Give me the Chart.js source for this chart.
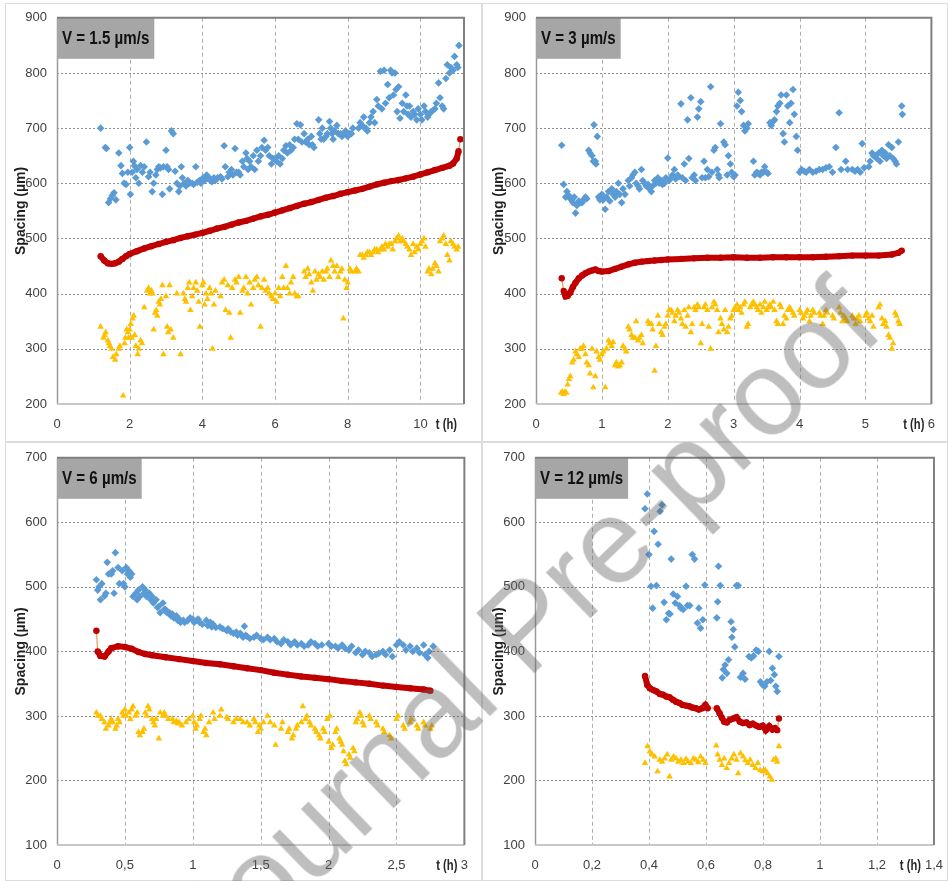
<!DOCTYPE html>
<html>
<head>
<meta charset="utf-8">
<script src="https://cdn.jsdelivr.net/npm/chart.js@4.4.0/dist/chart.umd.min.js"></script>
<style>
    html, body { margin: 0; padding: 0; background: #fff; width: 948px; height: 881px; overflow: hidden; }
    .frame { position: absolute; border: 1.5px solid #dcdcdc; box-sizing: border-box; }
    .panel { position: absolute; }
    .wm {
        position: absolute; left: 524px; top: 624px;
        transform: translate(-50%, -50%) rotate(-44deg);
        font: 120px "Liberation Sans", Arial, sans-serif;
        color: rgba(100, 100, 100, 0.42);
        white-space: nowrap; pointer-events: none;
    }
</style>
</head>
<body>
<div class="frame" style="left:5px;top:3px;width:478px;height:440px"></div>
<div class="frame" style="left:481px;top:3px;width:467px;height:440px"></div>
<div class="frame" style="left:5px;top:441px;width:478px;height:440px"></div>
<div class="frame" style="left:481px;top:441px;width:467px;height:440px"></div>

<div class="panel" style="left:0;top:0"><canvas id="c1" width="481" height="440"></canvas></div>
<div class="panel" style="left:481px;top:0"><canvas id="c2" width="467" height="440"></canvas></div>
<div class="panel" style="left:0;top:440px"><canvas id="c3" width="481" height="441"></canvas></div>
<div class="panel" style="left:481px;top:440px"><canvas id="c4" width="475" height="441"></canvas></div>

<div class="wm">Journal Pre-proof</div>

<script>
// [t (h), spacing (µm)]  -- max (blue), mean (red), min (yellow)

// V = 1.5 µm/s
const v15Max = [[1.2,700],[1.33,665],[1.36,663],[1.42,565],[1.47,572],[1.52,578],[1.57,583],[1.62,570],[1.7,655],[1.76,632],[1.8,618],[1.85,600],[1.9,598],[1.95,620],[2.0,665],[2.02,580],[2.07,620],[2.1,640],[2.13,632],[2.17,610],[2.2,625],[2.25,600],[2.3,632],[2.35,620],[2.4,630],[2.46,675],[2.52,612],[2.56,620],[2.62,585],[2.66,600],[2.72,615],[2.76,625],[2.8,630],[2.85,628],[2.9,580],[2.93,630],[3.0,660],[3.03,630],[3.07,625],[3.1,590],[3.15,695],[3.2,690],[3.25,622],[3.3,600],[3.35,585],[3.38,595],[3.42,630],[3.45,610],[3.5,600],[3.55,595],[3.6,605],[3.65,600],[3.72,600],[3.76,598],[3.82,630],[3.86,602],[3.92,605],[3.96,600],[4.02,610],[4.06,605],[4.12,615],[4.16,608],[4.22,608],[4.26,603],[4.32,610],[4.36,605],[4.42,610],[4.5,612],[4.54,608],[4.6,668],[4.63,630],[4.7,612],[4.74,620],[4.8,625],[4.84,615],[4.9,663],[4.94,620],[5.0,620],[5.04,615],[5.1,640],[5.14,630],[5.2,655],[5.23,645],[5.26,625],[5.3,640],[5.34,630],[5.4,650],[5.44,625],[5.5,660],[5.54,640],[5.6,650],[5.64,665],[5.7,678],[5.74,660],[5.8,665],[5.84,650],[5.9,635],[5.94,645],[6.0,645],[6.04,640],[6.1,650],[6.14,635],[6.2,645],[6.24,660],[6.3,668],[6.34,655],[6.4,670],[6.44,660],[6.5,665],[6.54,680],[6.6,708],[6.64,680],[6.7,706],[6.74,675],[6.8,690],[6.84,675],[6.9,680],[6.94,670],[7.0,685],[7.03,670],[7.07,665],[7.2,715],[7.23,690],[7.27,680],[7.3,700],[7.34,680],[7.4,685],[7.44,690],[7.5,712],[7.53,700],[7.57,690],[7.6,680],[7.64,695],[7.7,705],[7.74,690],[7.8,690],[7.84,685],[7.9,690],[7.94,695],[8.0,685],[8.04,690],[8.1,690],[8.14,700],[8.3,700],[8.34,710],[8.4,705],[8.44,720],[8.47,700],[8.5,700],[8.54,695],[8.6,710],[8.64,720],[8.7,730],[8.74,710],[8.8,752],[8.84,740],[8.9,803],[8.94,735],[9.0,805],[9.04,745],[9.1,779],[9.14,755],[9.18,805],[9.22,800],[9.26,760],[9.3,800],[9.33,770],[9.36,730],[9.4,775],[9.44,718],[9.5,745],[9.54,730],[9.6,760],[9.63,740],[9.66,725],[9.7,740],[9.74,720],[9.8,730],[9.84,725],[9.9,715],[9.94,735],[10.0,725],[10.04,715],[10.1,740],[10.14,730],[10.2,720],[10.24,725],[10.3,730],[10.34,732],[10.4,735],[10.44,745],[10.5,782],[10.54,755],[10.6,740],[10.64,735],[10.7,790],[10.74,815],[10.8,800],[10.84,810],[10.9,805],[10.94,830],[11.0,815],[11.03,810],[11.06,850]];
const v15Mean = [[1.2,468],[1.3,460],[1.4,455],[1.5,454],[1.6,455],[1.7,458],[1.8,463],[1.9,468],[2.0,472],[2.2,477],[2.4,482],[2.6,486],[2.8,490],[3.0,494],[3.2,497],[3.4,501],[3.6,504],[3.8,507],[4.0,510],[4.2,514],[4.4,518],[4.6,521],[4.8,525],[5.0,529],[5.2,532],[5.4,536],[5.6,540],[5.8,543],[6.0,547],[6.2,551],[6.4,555],[6.6,559],[6.8,563],[7.0,566],[7.2,570],[7.4,574],[7.6,577],[7.8,581],[8.0,584],[8.2,587],[8.4,590],[8.6,594],[8.8,598],[9.0,601],[9.2,604],[9.4,606],[9.6,609],[9.8,612],[10.0,616],[10.2,620],[10.4,624],[10.6,628],[10.8,632],[10.9,636],[11.0,645],[11.05,658],[11.1,680]];
const v15Min = [[1.2,340],[1.28,320],[1.31,325],[1.34,330],[1.4,315],[1.43,310],[1.46,305],[1.5,300],[1.54,285],[1.6,280],[1.63,290],[1.7,300],[1.73,305],[1.82,215],[1.86,310],[1.88,320],[1.92,335],[1.95,330],[1.97,320],[2.0,335],[2.03,345],[2.06,320],[2.08,355],[2.11,360],[2.14,325],[2.17,305],[2.22,290],[2.25,300],[2.3,315],[2.34,310],[2.4,375],[2.48,405],[2.52,410],[2.56,400],[2.6,405],[2.63,400],[2.66,335],[2.7,365],[2.73,370],[2.76,360],[2.8,385],[2.83,380],[2.86,390],[2.9,415],[2.93,290],[3.0,395],[3.03,340],[3.06,330],[3.1,415],[3.13,335],[3.2,320],[3.3,400],[3.4,290],[3.48,400],[3.52,390],[3.55,385],[3.6,410],[3.64,420],[3.67,370],[3.72,395],[3.76,410],[3.82,420],[3.86,405],[3.9,385],[3.93,340],[4.0,415],[4.03,420],[4.06,380],[4.1,400],[4.14,390],[4.2,410],[4.24,400],[4.28,300],[4.32,380],[4.36,405],[4.5,395],[4.54,420],[4.6,425],[4.64,370],[4.7,415],[4.74,365],[4.78,320],[4.82,410],[4.9,425],[4.94,420],[5.0,430],[5.04,365],[5.1,405],[5.14,410],[5.2,430],[5.24,400],[5.3,420],[5.34,380],[5.4,410],[5.44,425],[5.5,430],[5.54,415],[5.6,340],[5.64,410],[5.7,425],[5.74,405],[5.8,410],[5.84,400],[5.9,395],[5.94,390],[6.0,400],[6.04,385],[6.1,410],[6.14,395],[6.2,430],[6.24,410],[6.3,450],[6.34,410],[6.4,400],[6.44,420],[6.5,430],[6.54,400],[6.6,395],[6.64,395],[6.8,440],[6.84,430],[6.9,445],[6.94,435],[7.0,420],[7.04,405],[7.1,440],[7.14,425],[7.2,435],[7.24,430],[7.3,440],[7.34,425],[7.4,440],[7.44,445],[7.5,430],[7.54,460],[7.6,450],[7.64,440],[7.7,450],[7.74,430],[7.8,440],[7.84,445],[7.88,355],[7.92,425],[7.97,410],[8.0,420],[8.06,445],[8.1,440],[8.2,440],[8.24,445],[8.3,440],[8.34,470],[8.4,470],[8.44,465],[8.5,470],[8.54,475],[8.6,475],[8.64,470],[8.7,475],[8.74,480],[8.8,480],[8.84,475],[8.9,480],[8.94,485],[9.0,480],[9.04,490],[9.1,485],[9.14,490],[9.2,490],[9.24,480],[9.3,495],[9.34,500],[9.4,505],[9.44,495],[9.5,500],[9.54,495],[9.6,490],[9.64,485],[9.7,480],[9.74,470],[9.8,490],[9.84,475],[9.9,485],[9.94,480],[10.0,490],[10.04,495],[10.1,500],[10.14,485],[10.2,440],[10.24,445],[10.3,435],[10.34,445],[10.4,455],[10.44,450],[10.5,440],[10.54,495],[10.6,500],[10.64,505],[10.7,490],[10.74,470],[10.8,460],[10.84,495],[10.9,490],[10.94,485],[11.0,480],[11.04,485]];

// V = 3 µm/s
const v3Max = [[0.39,669],[0.42,598],[0.45,575],[0.47,585],[0.5,578],[0.52,572],[0.54,570],[0.56,565],[0.58,575],[0.6,546],[0.62,560],[0.65,568],[0.67,565],[0.7,565],[0.72,570],[0.75,575],[0.77,572],[0.8,660],[0.82,655],[0.85,650],[0.87,640],[0.88,706],[0.9,640],[0.91,635],[0.93,685],[0.95,575],[0.97,570],[1.0,580],[1.02,570],[1.05,553],[1.07,575],[1.1,585],[1.12,568],[1.15,590],[1.17,580],[1.2,575],[1.22,585],[1.25,600],[1.27,580],[1.3,565],[1.32,590],[1.35,580],[1.4,605],[1.42,595],[1.45,610],[1.47,615],[1.5,620],[1.52,600],[1.55,595],[1.57,590],[1.6,625],[1.62,605],[1.65,600],[1.67,595],[1.7,598],[1.72,590],[1.75,585],[1.77,595],[1.8,605],[1.82,600],[1.85,610],[1.87,600],[1.9,605],[1.92,598],[1.95,600],[1.97,610],[2.0,646],[2.02,605],[2.05,610],[2.07,615],[2.1,625],[2.12,608],[2.15,615],[2.17,612],[2.2,744],[2.22,610],[2.25,635],[2.27,605],[2.3,715],[2.32,645],[2.35,755],[2.37,610],[2.4,615],[2.42,605],[2.45,720],[2.47,735],[2.5,748],[2.52,610],[2.55,640],[2.57,610],[2.6,625],[2.62,612],[2.65,775],[2.67,620],[2.7,660],[2.72,665],[2.75,625],[2.77,615],[2.78,610],[2.8,708],[2.85,675],[2.87,670],[2.9,615],[2.92,650],[2.95,635],[2.97,620],[3.0,612],[3.02,615],[3.05,740],[3.07,765],[3.1,750],[3.12,730],[3.15,705],[3.17,695],[3.2,700],[3.22,708],[3.3,640],[3.32,615],[3.35,620],[3.37,618],[3.4,615],[3.42,620],[3.45,620],[3.47,630],[3.5,620],[3.52,618],[3.55,710],[3.57,705],[3.6,712],[3.62,715],[3.65,730],[3.67,740],[3.7,745],[3.72,760],[3.75,690],[3.77,675],[3.8,760],[3.82,740],[3.85,710],[3.87,745],[3.9,770],[3.92,725],[3.95,685],[3.97,660],[4.0,620],[4.03,625],[4.07,622],[4.1,620],[4.15,625],[4.2,620],[4.25,622],[4.3,625],[4.35,625],[4.4,628],[4.45,630],[4.5,620],[4.55,665],[4.6,728],[4.63,625],[4.7,640],[4.73,625],[4.8,625],[4.84,622],[4.88,625],[4.92,620],[4.95,672],[4.98,628],[5.05,630],[5.07,640],[5.1,655],[5.12,650],[5.15,650],[5.17,645],[5.2,655],[5.22,640],[5.25,660],[5.27,650],[5.3,655],[5.32,645],[5.35,670],[5.37,650],[5.4,665],[5.42,645],[5.45,640],[5.47,635],[5.5,675],[5.55,740],[5.56,725]];
const v3Mean = [[0.39,428],[0.42,405],[0.45,395],[0.48,396],[0.52,402],[0.56,412],[0.6,420],[0.65,428],[0.7,433],[0.75,437],[0.8,440],[0.85,442],[0.9,444],[0.95,441],[1.0,440],[1.1,441],[1.2,445],[1.3,449],[1.4,453],[1.5,456],[1.6,458],[1.7,459],[1.8,460],[1.9,461],[2.0,462],[2.2,463],[2.4,464],[2.6,465],[2.8,465],[3.0,466],[3.2,465],[3.4,465],[3.6,466],[3.8,466],[4.0,466],[4.2,466],[4.4,467],[4.6,468],[4.8,469],[5.0,469],[5.2,469],[5.4,471],[5.5,474],[5.55,478]];
const v3Min = [[0.38,220],[0.4,222],[0.42,218],[0.44,222],[0.46,220],[0.48,235],[0.5,245],[0.52,250],[0.55,275],[0.57,280],[0.6,295],[0.62,290],[0.65,285],[0.67,300],[0.7,300],[0.72,305],[0.75,290],[0.77,275],[0.8,270],[0.82,255],[0.85,300],[0.87,230],[0.9,250],[0.92,295],[0.95,285],[0.97,280],[1.0,290],[1.02,295],[1.05,230],[1.07,300],[1.1,315],[1.12,310],[1.15,305],[1.17,312],[1.2,270],[1.22,275],[1.25,268],[1.27,270],[1.3,275],[1.32,305],[1.35,300],[1.37,295],[1.4,340],[1.42,335],[1.45,325],[1.47,320],[1.5,320],[1.52,350],[1.55,315],[1.57,320],[1.6,325],[1.62,310],[1.7,350],[1.72,345],[1.75,345],[1.77,335],[1.8,260],[1.82,305],[1.85,360],[1.87,345],[1.9,330],[1.92,325],[1.95,340],[1.97,345],[2.0,360],[2.02,370],[2.05,370],[2.07,365],[2.1,350],[2.12,360],[2.15,370],[2.17,365],[2.2,355],[2.22,345],[2.25,370],[2.27,340],[2.3,360],[2.32,375],[2.35,330],[2.37,345],[2.4,375],[2.42,370],[2.45,380],[2.47,375],[2.5,310],[2.52,345],[2.55,375],[2.57,380],[2.6,370],[2.62,340],[2.65,300],[2.67,375],[2.7,385],[2.72,380],[2.75,370],[2.77,330],[2.8,355],[2.82,345],[2.85,335],[2.87,370],[2.9,330],[2.92,340],[2.95,355],[2.97,360],[3.0,370],[3.02,375],[3.05,380],[3.07,370],[3.1,375],[3.12,365],[3.15,380],[3.17,385],[3.2,340],[3.22,345],[3.25,375],[3.27,380],[3.3,385],[3.32,380],[3.35,375],[3.37,370],[3.4,380],[3.42,365],[3.45,375],[3.47,385],[3.5,370],[3.52,375],[3.55,380],[3.57,375],[3.6,385],[3.62,370],[3.65,350],[3.67,345],[3.7,380],[3.72,375],[3.75,345],[3.77,360],[3.8,355],[3.82,370],[3.85,375],[3.87,370],[3.9,365],[3.92,360],[4.0,370],[4.02,365],[4.05,355],[4.07,360],[4.1,365],[4.12,370],[4.15,350],[4.17,360],[4.2,370],[4.22,365],[4.3,365],[4.32,360],[4.35,345],[4.37,360],[4.4,370],[4.42,365],[4.5,360],[4.52,355],[4.6,375],[4.62,365],[4.65,350],[4.67,360],[4.7,355],[4.72,350],[4.8,360],[4.82,355],[4.85,345],[4.87,355],[4.9,360],[4.92,350],[5.0,360],[5.02,365],[5.05,355],[5.07,350],[5.1,360],[5.12,340],[5.2,375],[5.22,380],[5.25,355],[5.27,345],[5.3,350],[5.32,340],[5.35,325],[5.37,320],[5.4,300],[5.42,310],[5.45,365],[5.47,360],[5.5,350],[5.52,345]];

// V = 6 µm/s
const v6Max = [[0.29,511],[0.3,495],[0.31,500],[0.32,480],[0.33,505],[0.35,486],[0.36,490],[0.37,538],[0.38,520],[0.4,520],[0.41,525],[0.42,490],[0.43,553],[0.45,530],[0.46,505],[0.48,525],[0.49,505],[0.5,500],[0.51,530],[0.52,520],[0.53,525],[0.54,515],[0.55,520],[0.56,485],[0.58,490],[0.59,480],[0.6,495],[0.61,485],[0.63,500],[0.64,490],[0.65,495],[0.66,485],[0.68,490],[0.69,480],[0.7,485],[0.71,475],[0.73,480],[0.74,468],[0.75,470],[0.76,460],[0.78,475],[0.79,465],[0.8,465],[0.81,460],[0.83,460],[0.84,455],[0.85,458],[0.86,452],[0.88,455],[0.89,448],[0.9,450],[0.91,445],[0.93,448],[0.94,445],[0.96,447],[0.98,452],[1.0,450],[1.01,445],[1.03,448],[1.04,450],[1.05,445],[1.07,442],[1.1,448],[1.11,440],[1.13,445],[1.14,438],[1.15,442],[1.17,437],[1.2,438],[1.22,435],[1.25,432],[1.26,435],[1.28,430],[1.3,428],[1.32,430],[1.33,425],[1.35,428],[1.37,422],[1.38,439],[1.39,425],[1.4,423],[1.42,420],[1.45,422],[1.47,425],[1.5,420],[1.52,418],[1.55,422],[1.57,418],[1.6,420],[1.62,415],[1.65,412],[1.67,418],[1.7,415],[1.72,410],[1.75,415],[1.77,410],[1.8,412],[1.82,408],[1.85,410],[1.87,415],[1.9,412],[1.92,408],[1.95,410],[2.0,412],[2.02,408],[2.05,408],[2.07,405],[2.1,410],[2.12,405],[2.15,402],[2.17,408],[2.2,398],[2.22,402],[2.25,395],[2.27,400],[2.3,398],[2.32,392],[2.35,395],[2.37,397],[2.4,400],[2.42,395],[2.45,402],[2.47,392],[2.5,410],[2.52,415],[2.55,410],[2.57,402],[2.6,408],[2.62,400],[2.65,405],[2.67,398],[2.7,410],[2.71,395],[2.73,390],[2.74,400],[2.77,408]];
const v6Mean = [[0.29,432],[0.3,400],[0.32,393],[0.35,392],[0.38,400],[0.4,405],[0.45,408],[0.5,407],[0.55,404],[0.6,399],[0.65,396],[0.7,394],[0.8,391],[0.9,388],[1.0,385],[1.1,382],[1.2,380],[1.3,377],[1.4,374],[1.5,371],[1.6,367],[1.7,364],[1.8,361],[1.9,359],[2.0,357],[2.1,354],[2.2,352],[2.3,350],[2.4,347],[2.5,345],[2.6,343],[2.7,341],[2.75,339]];
const v6Min = [[0.29,305],[0.3,300],[0.32,300],[0.33,295],[0.35,290],[0.36,280],[0.38,285],[0.39,290],[0.4,295],[0.41,290],[0.43,280],[0.44,285],[0.45,295],[0.46,290],[0.48,305],[0.49,300],[0.5,310],[0.51,300],[0.53,305],[0.54,295],[0.55,310],[0.56,315],[0.58,300],[0.59,305],[0.6,275],[0.61,270],[0.63,275],[0.64,280],[0.65,305],[0.66,300],[0.67,315],[0.68,310],[0.7,295],[0.71,290],[0.72,285],[0.73,295],[0.75,265],[0.76,305],[0.78,300],[0.79,305],[0.8,300],[0.82,295],[0.85,295],[0.86,290],[0.88,292],[0.89,288],[0.9,290],[0.92,285],[0.95,290],[0.97,295],[1.0,300],[1.01,290],[1.02,280],[1.03,285],[1.05,295],[1.06,300],[1.08,275],[1.09,280],[1.1,270],[1.12,290],[1.15,305],[1.16,295],[1.2,300],[1.21,310],[1.25,298],[1.26,295],[1.3,290],[1.32,295],[1.35,295],[1.37,290],[1.4,290],[1.42,285],[1.45,295],[1.46,290],[1.48,275],[1.49,285],[1.5,280],[1.52,290],[1.55,300],[1.57,290],[1.6,285],[1.61,255],[1.65,280],[1.66,290],[1.7,275],[1.71,280],[1.73,265],[1.74,270],[1.76,280],[1.77,285],[1.8,290],[1.81,315],[1.83,295],[1.84,300],[1.86,290],[1.87,285],[1.9,280],[1.91,275],[1.93,270],[1.94,265],[1.96,280],[1.97,275],[1.99,295],[2.0,260],[2.01,300],[2.02,250],[2.03,255],[2.05,275],[2.06,280],[2.08,265],[2.09,260],[2.1,255],[2.11,245],[2.12,230],[2.13,225],[2.15,240],[2.16,235],[2.18,250],[2.19,245],[2.2,290],[2.21,295],[2.23,305],[2.24,300],[2.25,290],[2.26,285],[2.3,300],[2.31,295],[2.35,290],[2.36,285],[2.4,280],[2.41,275],[2.45,270],[2.46,265],[2.5,295],[2.51,300],[2.55,285],[2.56,280],[2.6,290],[2.61,295],[2.65,285],[2.66,280],[2.7,290],[2.71,285],[2.75,280],[2.76,285]];

// V = 12 µm/s
const v12Max = [[0.386,621],[0.394,644],[0.4,550],[0.407,501],[0.413,467],[0.418,586],[0.426,502],[0.432,566],[0.439,617],[0.446,627],[0.453,476],[0.461,449],[0.469,459],[0.474,458],[0.478,543],[0.485,489],[0.492,475],[0.5,485],[0.507,471],[0.512,467],[0.52,465],[0.53,501],[0.535,471],[0.543,471],[0.552,550],[0.56,543],[0.57,444],[0.575,467],[0.581,436],[0.589,449],[0.596,503],[0.638,452],[0.641,477],[0.644,532],[0.65,502],[0.657,359],[0.661,372],[0.667,379],[0.673,366],[0.679,387],[0.688,446],[0.691,422],[0.696,434],[0.701,407],[0.707,502],[0.713,502],[0.721,360],[0.73,366],[0.737,357],[0.751,392],[0.759,390],[0.767,393],[0.776,402],[0.784,400],[0.791,353],[0.799,348],[0.806,346],[0.814,353],[0.822,400],[0.827,355],[0.833,374],[0.84,364],[0.845,346],[0.85,338],[0.856,392]];
const v12Mean = [[0.386,362],[0.394,348],[0.403,343],[0.415,340],[0.426,338],[0.438,334],[0.449,333],[0.461,330],[0.472,329],[0.484,325],[0.495,322],[0.507,320],[0.518,317],[0.53,316],[0.541,315],[0.552,313],[0.564,312],[0.575,310],[0.587,312],[0.598,317],[0.606,312],[0.638,312],[0.648,304],[0.656,297],[0.664,291],[0.673,290],[0.684,294],[0.696,296],[0.707,298],[0.719,291],[0.73,289],[0.742,290],[0.753,286],[0.764,288],[0.776,285],[0.787,283],[0.799,285],[0.81,278],[0.822,284],[0.833,279],[0.842,281],[0.85,278],[0.856,296]];
const v12Min = [[0.386,227],[0.395,253],[0.403,245],[0.411,240],[0.42,237],[0.43,214],[0.438,232],[0.446,229],[0.455,234],[0.464,240],[0.472,206],[0.478,232],[0.486,237],[0.495,234],[0.503,229],[0.512,232],[0.521,227],[0.53,233],[0.537,229],[0.547,227],[0.556,234],[0.564,232],[0.573,228],[0.581,237],[0.59,232],[0.598,227],[0.636,254],[0.641,240],[0.648,232],[0.656,224],[0.664,234],[0.673,219],[0.681,227],[0.69,234],[0.698,240],[0.707,232],[0.713,211],[0.721,242],[0.73,237],[0.738,231],[0.747,227],[0.755,232],[0.764,224],[0.774,219],[0.782,227],[0.79,216],[0.799,214],[0.808,216],[0.816,211],[0.824,206],[0.831,201],[0.837,232],[0.845,234],[0.85,229],[0.856,253]];

const SANS = '"Liberation Sans", Arial, sans-serif';

const xy = arr => arr.map(([x, y]) => ({ x, y }));

// texto "estreito": Calibri condensado simulado com escala horizontal
function narrowText(ctx, text, x, y, sx, align) {
    const w = ctx.measureText(text).width * sx;
    ctx.save();
    ctx.translate(align === 'right' ? x - w : x, y);
    ctx.scale(sx, 1);
    ctx.textAlign = 'left';
    ctx.fillText(text, 0, 0);
    ctx.restore();
    return w;
}

// grade tracejada e eixos (a partir das escalas do Chart.js)
const panelGrid = {
    id: 'panelGrid',
    beforeDatasetsDraw(chart) {
        const { ctx, chartArea: a, scales: { x, y } } = chart;
        ctx.save();
        ctx.lineWidth = 1;
        ctx.setLineDash([4, 3]);
        ctx.strokeStyle = '#b0b0b0';
        ctx.beginPath();
        x.ticks.forEach(t => {
            const px = Math.round(x.getPixelForValue(t.value)) + 0.5;
            if (px > a.left + 2 && px < a.right - 2) {
                ctx.moveTo(px, a.top);
                ctx.lineTo(px, a.bottom);
            }
        });
        ctx.stroke();
        ctx.setLineDash([2, 2]);
        ctx.strokeStyle = '#8e8e8e';
        ctx.beginPath();
        y.ticks.forEach(t => {
            const py = Math.round(y.getPixelForValue(t.value)) + 0.5;
            if (py > a.top + 2 && py < a.bottom - 2) {
                ctx.moveTo(a.left, py);
                ctx.lineTo(a.right, py);
            }
        });
        ctx.stroke();
        ctx.setLineDash([]);
        ctx.strokeStyle = '#9a9a9a';
        ctx.lineWidth = 1.5;
        ctx.beginPath();
        ctx.moveTo(a.left + 0.5, a.top);
        ctx.lineTo(a.left + 0.5, a.bottom);
        ctx.stroke();
        ctx.strokeStyle = '#c8c8c8';
        ctx.lineWidth = 2;
        ctx.beginPath();
        ctx.moveTo(a.left, a.bottom);
        ctx.lineTo(a.right, a.bottom);
        ctx.stroke();
        ctx.restore();
    }
};

// caixa do título, borda superior/direita e rótulo "t (h)"
const panelDecor = {
    id: 'panelDecor',
    afterDatasetsDraw(chart, args, opts) {
        const { ctx, chartArea: a } = chart;
        ctx.save();
        ctx.font = 'bold 18px ' + SANS;
        const w = ctx.measureText(opts.label).width * 0.84 + 10;
        ctx.fillStyle = '#a6a6a6';
        ctx.fillRect(a.left, a.top, w, 41);
        ctx.fillStyle = '#111';
        ctx.textBaseline = 'middle';
        narrowText(ctx, opts.label, a.left + 5, a.top + 21, 0.84, 'left');

        ctx.strokeStyle = '#808080';
        ctx.lineWidth = 2;
        ctx.beginPath();
        ctx.moveTo(a.left, a.top);
        ctx.lineTo(a.right, a.top);
        ctx.lineTo(a.right, a.bottom);
        ctx.stroke();

        ctx.font = 'bold 14px ' + SANS;
        ctx.fillStyle = '#262626';
        narrowText(ctx, 't (h)', a.right - opts.tOff, a.bottom + 21, 0.8, 'right');
        ctx.restore();
    }
};

function makePanel(id, p) {
    const thin = c => (c.p1.parsed.x - c.p0.parsed.x) > p.gap || Math.abs(c.p1.parsed.y - c.p0.parsed.y) > 15;
    return new Chart(document.getElementById(id), {
        type: 'scatter',
        data: {
            datasets: [{
                data: xy(p.max),
                pointStyle: 'rectRot',
                pointRadius: 3.8,
                pointBorderWidth: 0,
                backgroundColor: '#5B9BD5',
                borderColor: '#5B9BD5'
            }, {
                data: xy(p.mean),
                showLine: true,
                pointStyle: 'circle',
                pointRadius: 3.2,
                pointBorderWidth: 0,
                backgroundColor: '#C00000',
                borderColor: '#C00000',
                borderWidth: 6,
                segment: {
                    borderWidth: c => thin(c) ? 1.2 : 6,
                    borderColor: c => thin(c) ? '#EE9A4D' : '#C00000'
                }
            }, {
                data: xy(p.min),
                pointStyle: 'triangle',
                pointRadius: 3.8,
                pointBorderWidth: 0,
                backgroundColor: '#FFC000',
                borderColor: '#FFC000'
            }]
        },
        options: {
            responsive: false,
            animation: false,
            events: [],
            layout: { padding: { top: 17, right: p.padR, left: 0, bottom: 0 } },
            plugins: {
                legend: { display: false },
                tooltip: { enabled: false },
                panelDecor: { label: p.label, tOff: p.tOff }
            },
            scales: {
                x: {
                    type: 'linear',
                    min: 0,
                    max: p.xMax,
                    afterFit: s => { s.height = 36; },
                    ticks: {
                        stepSize: p.xStep,
                        includeBounds: false,
                        maxRotation: 0,
                        autoSkip: false,
                        padding: 13,
                        color: '#404040',
                        font: { family: SANS, size: 13 },
                        callback: v => String(Number(v.toFixed(2))).replace('.', ',')
                    },
                    grid: { display: false, drawTicks: false },
                    border: { display: false }
                },
                y: {
                    min: p.yMin,
                    max: p.yMax,
                    afterFit: s => { s.width = p.yw; },
                    ticks: {
                        stepSize: 100,
                        padding: 10,
                        color: '#404040',
                        font: { family: SANS, size: 13 }
                    },
                    grid: { display: false, drawTicks: false },
                    border: { display: false },
                    title: {
                        display: true,
                        text: 'Spacing (µm)',
                        color: '#1f1f1f',
                        font: { family: SANS, size: 14, weight: 'bold' },
                        padding: { top: p.titlePad, bottom: 0 }
                    }
                }
            }
        },
        plugins: [panelGrid, panelDecor]
    });
}

makePanel('c1', { label: 'V = 1.5 µm/s', max: v15Max, mean: v15Mean, min: v15Min,
    xMax: 11.2, xStep: 2, yMin: 200, yMax: 900, yw: 57, padR: 17, titlePad: 13, tOff: 7, gap: 0.3 });
makePanel('c2', { label: 'V = 3 µm/s', max: v3Max, mean: v3Mean, min: v3Min,
    xMax: 6, xStep: 1, yMin: 200, yMax: 900, yw: 55, padR: 4, titlePad: 10, tOff: 7, gap: 0.25 });
makePanel('c3', { label: 'V = 6 µm/s', max: v6Max, mean: v6Mean, min: v6Min,
    xMax: 3, xStep: 0.5, yMin: 100, yMax: 700, yw: 57, padR: 16, titlePad: 13, tOff: 7, gap: 0.15 });
makePanel('c4', { label: 'V = 12 µm/s', max: v12Max, mean: v12Mean, min: v12Min,
    xMax: 1.4, xStep: 0.2, yMin: 100, yMax: 700, yw: 54, padR: 14, titlePad: 10, tOff: 13, gap: 0.025 });
</script>
</body>
</html>
